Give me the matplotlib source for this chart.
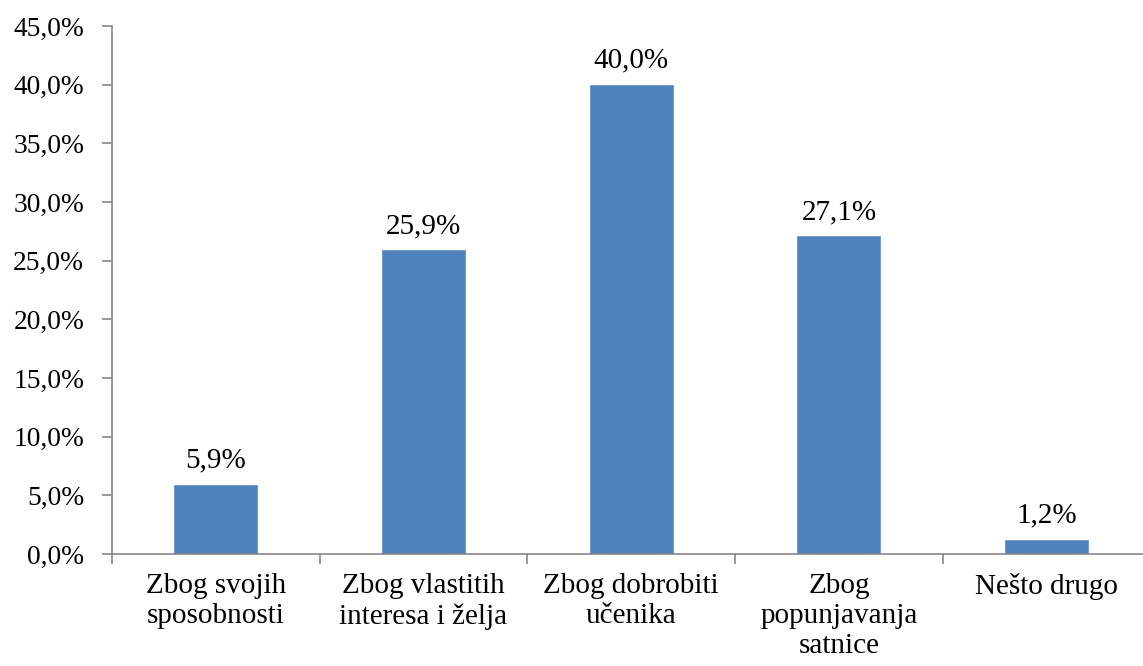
import matplotlib
matplotlib.use("Agg")
import matplotlib.pyplot as plt
import numpy as np

categories = ["Zbog svojih\nsposobnosti", "Zbog vlastitih\ninteresa i želja",
              "Zbog dobrobiti\nučenika", "Zbog\npopunjavanja\nsatnice", "Nešto drugo"]
values = [5.9, 25.9, 40.0, 27.1, 1.2]
yticks = [0, 5, 10, 15, 20, 25, 30, 35, 40, 45]

plt.rcParams['font.family'] = ['Liberation Serif', 'DejaVu Serif']
FS = 21

fig = plt.figure(figsize=(11.43, 6.66), dpi=100)
ax = fig.add_axes([112/1143, 1-554/666, 1038.5/1143, (554-26)/666])

x = np.arange(len(values))
ax.bar(x, values, width=0.4, color='#4F81BD', edgecolor='#6A95C8', linewidth=0.6, zorder=2)
for xi, v in zip(x, values):
    ax.annotate(f"{v:.1f}%".replace('.', ','), (xi, v), xytext=(0, 8),
                textcoords='offset points', ha='center', va='bottom', fontsize=FS)

ax.set_xlim(-0.5, len(values)-0.5)
ax.set_ylim(0, 45)
ax.set_yticks(yticks)
ax.set_yticklabels([f"{t:.1f}%".replace('.', ',') for t in yticks], fontsize=19.8)
ax.set_xticks(x)
ax.set_xticklabels(categories, fontsize=FS, linespacing=1.2)
ax.set_xticks(np.arange(-0.5, len(values)), minor=True)
ax.tick_params(axis='x', which='major', length=0, pad=14)
ax.tick_params(axis='x', which='minor', length=7, width=1.2, color='#868686')
ax.tick_params(axis='y', length=7, width=1.2, color='#868686', pad=13)
for s in ['top', 'right']:
    ax.spines[s].set_visible(False)
for s in ['left', 'bottom']:
    ax.spines[s].set_color('#868686')
    ax.spines[s].set_linewidth(1.2)

fig.savefig("out.png", dpi=100)
